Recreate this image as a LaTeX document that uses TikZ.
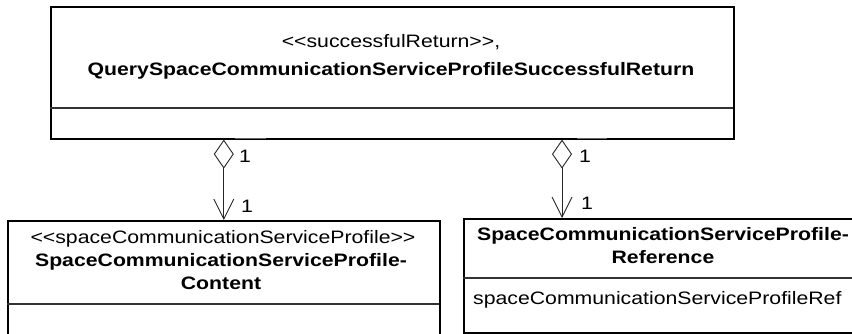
\documentclass[tikz,border=0pt]{standalone}
\usepackage{fontspec}
\setmainfont{Liberation Sans}
\usetikzlibrary{arrows.meta}
\newcommand{\hs}[1]{\scalebox{1.18}[1]{#1}}
\newcommand{\lt}{<\kern0pt<}
\newcommand{\gt}{>\kern0pt>}
\begin{document}
\begin{tikzpicture}[x=1pt,y=-1pt,
  cls/.style={draw=black, line width=1.6pt, inner sep=0pt, anchor=north west},
  divider/.style={draw=black!80, line width=1.4pt},
  gap/.style={draw=white, line width=2pt},
  thin/.style={draw=black!60, line width=0.6pt},
  txt/.style={anchor=base, inner sep=0pt, font=\fontsize{18}{20}\selectfont},
  btxt/.style={txt, font=\fontsize{18}{20}\selectfont\bfseries},
  assoc/.style={draw=black!85, line width=0.8pt,
    {Diamond[open,length=29pt,width=20pt,line width=0.9pt]}-{Straight Barb[length=20pt,width=20pt,line width=0.9pt]}}]
\useasboundingbox (0,0) rectangle (852,333);
\clip (0,0) rectangle (852,333);
% top class
\node[cls, minimum width=683pt, minimum height=132pt] (ret) at (50,6) {};
\draw[divider] (50,108) -- (733,108);
\node[txt] (retst) at (391,47) {\hs{\lt successfulReturn\gt,}};
\node[btxt] (retnm) at (391,75) {\hs{QuerySpaceCommunicationServiceProfileSuccessfulReturn}};
% lighter border segments next to the multiplicity labels
\draw[gap] (235,138) -- (266,138);
\draw[thin] (235,138) -- (266,138);
\draw[gap] (577,138) -- (607,138);
\draw[thin] (577,138) -- (607,138);
% left class
\node[cls, minimum width=432pt, minimum height=140pt] (content) at (7,220) {};
\draw[divider] (7,304) -- (439,304);
\node[txt] (const) at (223,243) {\hs{\lt spaceCommunicationServiceProfile\gt}};
\node[btxt] (connm1) at (221,266) {\hs{SpaceCommunicationServiceProfile-}};
\node[btxt] (connm2) at (221,289) {\hs{Content}};
% right class
\node[cls, minimum width=400pt, minimum height=114pt] (ref) at (463,218) {};
\draw[divider] (463,278) -- (863,278);
\node[btxt] (refnm1) at (663,240) {\hs{SpaceCommunicationServiceProfile-}};
\node[btxt] (refnm2) at (663,263) {\hs{Reference}};
\node[txt, anchor=base west] (refat) at (473,304) {\hs{spaceCommunicationServiceProfileRef}};
% associations
\coordinate (rb) at (562,218);
\draw[assoc] (ret.south -| content.north) -- (content.north);
\draw[assoc] (ret.south -| rb) -- (rb);
\node[txt] (m1) at (245,162) {\hs{1}};
\node[txt] (m2) at (247,212) {\hs{1}};
\node[txt] (m3) at (585,162) {\hs{1}};
\node[txt] (m4) at (587,209) {\hs{1}};
\end{tikzpicture}
\end{document}
